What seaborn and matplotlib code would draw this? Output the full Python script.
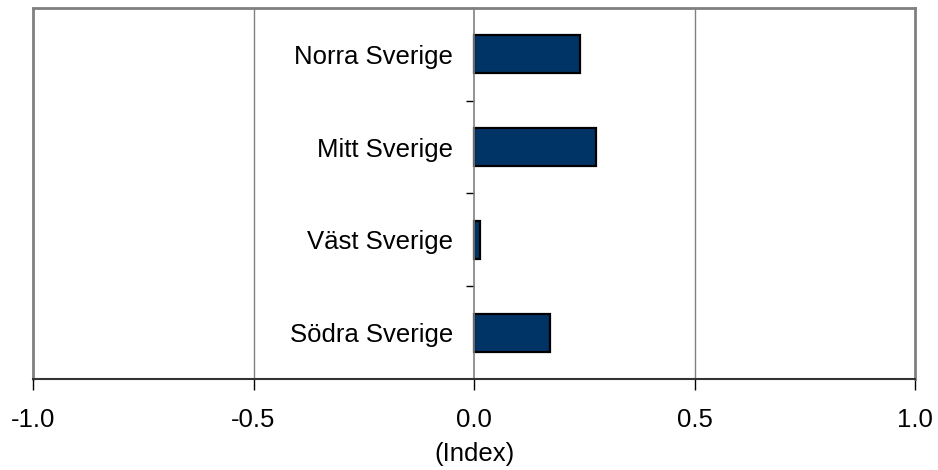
import pandas as pd
import numpy as np
import matplotlib
matplotlib.use("Agg")
import matplotlib.pyplot as plt
import matplotlib.ticker as tkr
import seaborn as sns

# data
regioner = ['Norra Sverige', 'Mitt Sverige', 'Väst Sverige', 'Södra Sverige']
index_varden = [0.240, 0.276, 0.013, 0.173]
x_ticks = [-1.0, -0.5, 0.0, 0.5, 1.0]

sns.set_style("white")
plt.rcParams['font.family'] = ['Liberation Sans', 'DejaVu Sans']
plt.rcParams['text.color'] = 'black'
plt.rcParams['axes.labelcolor'] = 'black'
plt.rcParams['xtick.color'] = 'black'
plt.rcParams['ytick.color'] = 'black'

df = pd.DataFrame({'region': regioner, 'index': index_varden})

fig = plt.figure(figsize=(9.38, 4.70), dpi=100)
ax = fig.add_axes([0.0352, 0.1936, 0.9403, 0.7894])

sns.barplot(data=df, x='index', y='region', orient='h', color='#003366',
            edgecolor='black', linewidth=1.6, width=0.41, saturation=1, ax=ax)

ax.set_xlim(-1, 1)
ax.set_ylim(3.5, -0.5)
ax.set_xticks(x_ticks)
ax.xaxis.set_major_formatter(tkr.FuncFormatter(lambda v, p: f'{v:.1f}'))
ax.tick_params(axis='x', direction='out', length=8, width=1, color='black',
               labelsize=18.5, pad=13, bottom=True)
ax.set_xlabel('(Index)', fontsize=18.5, labelpad=7)
ax.set_ylabel('')

# y axis sits on zero, gray, with small ticks between the categories
ax.spines['left'].set_position(('data', 0))
ax.spines['left'].set_color('#808080')
ax.spines['left'].set_linewidth(1.2)
ax.set_yticks([0.5, 1.5, 2.5], minor=True)
ax.tick_params(axis='y', which='major', length=0, labelsize=18.5, pad=15)
ax.tick_params(axis='y', which='minor', length=6, width=1, color='black', left=True)

for s in ['top', 'right']:
    ax.spines[s].set_color('#808080')
    ax.spines[s].set_linewidth(2)
ax.spines['bottom'].set_color('#333333')
ax.spines['bottom'].set_linewidth(1.5)

# gray vertical gridlines, incl. the left frame edge
for v in [-1.0, -0.5, 0.5]:
    ax.axvline(v, color='#808080', lw=2 if v == -1.0 else 1, zorder=0, clip_on=False)

fig.savefig('out.png', dpi=100)
